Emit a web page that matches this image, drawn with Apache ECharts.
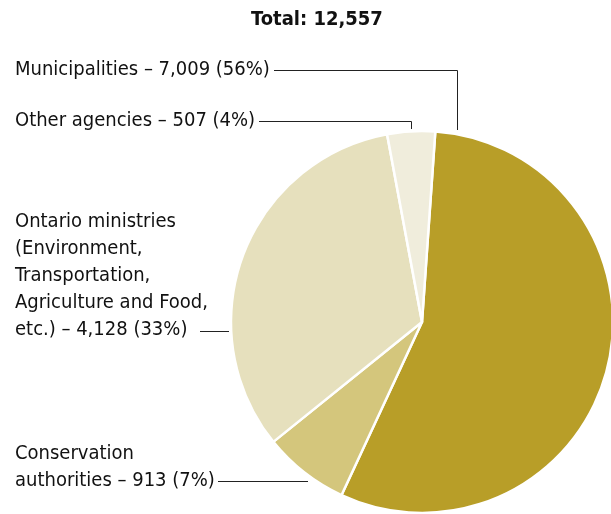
<!DOCTYPE html>
<html>
<head>
<meta charset="utf-8">
<script src="https://cdn.jsdelivr.net/npm/echarts@6/dist/echarts.min.js"></script>
<style>html,body{margin:0;padding:0;background:#fff}#c{width:611px;height:514px}</style>
</head>
<body>
<div id="c"></div>
<script>
const categories = ["Municipalities", "Conservation\nauthorities", "Ontario ministries\n(Environment,\nTransportation,\nAgriculture and Food,\netc.)", "Other agencies"];
const values = [7009, 913, 4128, 507];
const percents = [56, 7, 33, 4];
const colors = ["#B89E28", "#D4C67C", "#E6E0BD", "#F0EDDC"];

const total = values.reduce((a, b) => a + b, 0);
const fmt = n => n.toLocaleString('en-US');
const FONT = "'Liberation Sans Narrow', 'DejaVu Sans Condensed', sans-serif";

// label anchor positions (annotation layout)
const labelPos = [
  { x: 15, y: 70, pts: [[457.5, 130], [457.5, 70.5], [274, 70.5]] },
  { x: 15, y: 467, pts: [[308, 481.5], [260, 481.5], [218, 481.5]] },
  { x: 15, y: 276, pts: [[229, 331.5], [214, 331.5], [200, 331.5]] },
  { x: 15, y: 121, pts: [[411.5, 129], [411.5, 121.5], [259, 121.5]] }
];

const chart = echarts.init(document.getElementById('c'), null, { renderer: 'canvas' });
chart.setOption({
  animation: false,
  title: {
    text: 'Total: ' + fmt(total),
    left: 317, top: 10, textAlign: 'center', padding: 0,
    textStyle: { fontFamily: FONT, fontWeight: 'bold', fontSize: 20, color: '#111' }
  },
  series: [{
    type: 'pie',
    center: [422, 322],
    radius: [0, 191],
    startAngle: 86,
    clockwise: true,
    avoidLabelOverlap: false,
    data: categories.map((c, i) => ({ name: c, value: values[i], itemStyle: { color: colors[i] } })),
    itemStyle: { borderColor: '#fff', borderWidth: 2.5 },
    label: {
      show: true,
      formatter: p => p.name + ' – ' + fmt(p.value) + ' (' + percents[p.dataIndex] + '%)',
      fontFamily: FONT, fontSize: 20, lineHeight: 27, color: '#111'
    },
    labelLine: { show: true, lineStyle: { color: '#222', width: 1 } },
    labelLayout: function (params) {
      const p = labelPos[params.dataIndex];
      return { x: p.x, y: p.y, align: 'left', verticalAlign: 'middle', labelLinePoints: p.pts };
    },
    emphasis: { disabled: true }
  }]
});
</script>
</body>
</html>
